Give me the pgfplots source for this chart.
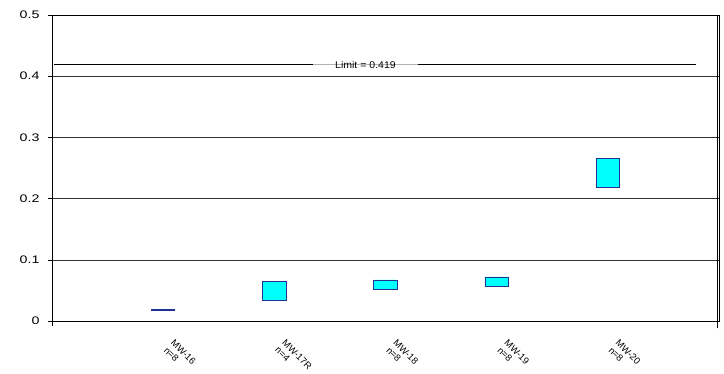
\documentclass[border=0pt]{standalone}
\usepackage{pgfplots}
\pgfplotsset{compat=1.18}
\usepackage{fontspec}
\setmainfont{Liberation Sans}
\newfontfamily\ticksfont[FakeStretch=1.3]{Liberation Sans}
\newfontfamily\limitfont[FakeStretch=1.08]{Liberation Sans}
\definecolor{boxfill}{RGB}{0,255,255}
\definecolor{boxedge}{RGB}{30,50,150}
\begin{document}
\begin{tikzpicture}
\begin{axis}[
  scale only axis,
  width=667bp, height=306bp,
  xmin=0, xmax=6, ymin=0, ymax=0.5,
  ytick={0,0.1,0.2,0.3,0.4,0.5},
  ytick pos=left,
  yticklabel style={font=\ticksfont\fontsize{11}{12}\selectfont, /pgf/number format/fixed, /pgf/number format/precision=1, xshift=-5bp},
  /pgf/number format/assume math mode=true,
  ymajorgrids,
  major grid style={black!80, line width=0.6pt},
  y tick style={black, line width=0.6pt},
  tick align=outside,
  major tick length=4bp,
  xtick={1,2,3,4,5},
  xticklabels={{MW-16\\n=8},{MW-17R\\n=4},{MW-18\\n=8},{MW-19\\n=8},{MW-20\\n=8}},
  xticklabel style={xshift=12bp, yshift=-14bp, rotate=-45, anchor=north west, inner sep=0pt, align=left, font=\fontsize{9.5}{10}\selectfont},
  x tick style={draw=none},
  axis line style={black, line width=0.9pt},
  ybar stacked,
  bar width=0.21,
  clip=false,
]
\addplot[draw=none, fill=none] coordinates {(1,0.017) (2,0.033) (3,0.052) (4,0.056) (5,0.219)};
\addplot[fill=boxfill, draw=boxedge, line width=0.8pt] coordinates {(1,0.002) (2,0.031) (3,0.015) (4,0.016) (5,0.047)};
\coordinate (bl) at (rel axis cs:0,0);
\coordinate (tr) at (rel axis cs:1,1);
\end{axis}
\begin{axis}[
  scale only axis,
  width=667bp, height=306bp,
  xmin=0, xmax=6, ymin=0, ymax=0.5,
  axis lines=none,
  clip=false,
]
\addplot[gray!60, line width=0.4pt] coordinates {(2.3,0.419) (3.35,0.419)};
\addplot[black, line width=0.7pt] coordinates {(0.02,0.419) (2.35,0.419)};
\addplot[black, line width=0.7pt] coordinates {(3.29,0.419) (5.79,0.419)};
\node[font=\limitfont\fontsize{9.8}{11}\selectfont, inner sep=1pt] at (axis cs:2.82,0.419) {Limit = 0.419};
\addplot[black, line width=1.1pt] coordinates {(5.985,-0.012) (5.985,0.5)};
\addplot[black, line width=0.8pt] coordinates {(0,0) (0,-0.008)};
\end{axis}
\pgfresetboundingbox
\path[use as bounding box] ([shift={(-52bp,-53bp)}]bl) rectangle ([shift={(5bp,15bp)}]tr);
\end{tikzpicture}
\end{document}
